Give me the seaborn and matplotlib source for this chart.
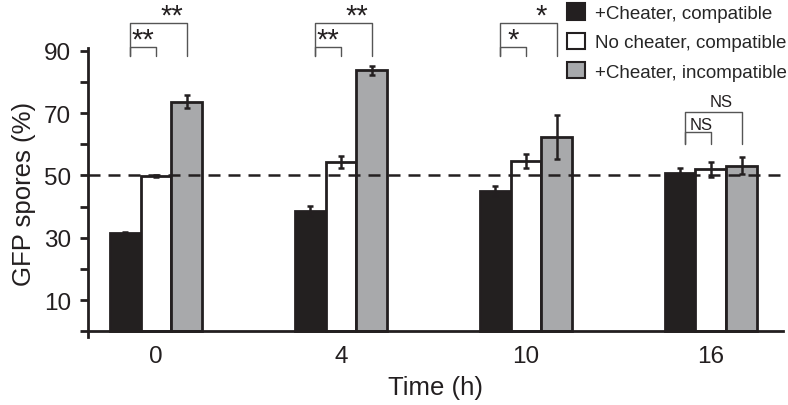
import pandas as pd
import matplotlib
matplotlib.use('Agg')
import matplotlib.pyplot as plt
import matplotlib.patches as mpatches
import seaborn as sns

# values
times = ['0', '4', '10', '16']
conditions = ['+Cheater, compatible', 'No cheater, compatible', '+Cheater, incompatible']
cheater_compat = [31.4, 38.5, 45.0, 50.8]
cheater_compat_err = [0.3, 1.6, 1.6, 1.6]
nocheater_compat = [49.8, 54.3, 54.7, 51.9]
nocheater_compat_err = [0.3, 2.0, 2.3, 2.4]
cheater_incompat = [73.7, 83.7, 62.4, 53.1]
cheater_incompat_err = [2.1, 1.5, 7.0, 2.7]
sig_inner = ['**', '**', '*', 'NS']
sig_outer = ['**', '**', '*', 'NS']

colors = ['#231f20', '#ffffff', '#a7a9ac']
dark = '#231f20'

df = pd.DataFrame({
    'Time': times * 3,
    'Condition': [c for c in conditions for _ in times],
    'GFP': cheater_compat + nocheater_compat + cheater_incompat,
})
errs = [cheater_compat_err, nocheater_compat_err, cheater_incompat_err]

sns.set_style('ticks')
plt.rcParams['font.family'] = ['Liberation Sans', 'DejaVu Sans']

fig = plt.figure(figsize=(7.88, 4.06), dpi=100)
ax = fig.add_axes([0.1117, 0.1665, 0.8820, 0.7138])

sns.barplot(data=df, x='Time', y='GFP', hue='Condition', order=times,
            hue_order=conditions, palette=colors, width=0.5, errorbar=None,
            edgecolor=dark, linewidth=2.0, legend=False, ax=ax)

# error bars on top of each bar
for cont, err in zip(ax.containers, errs):
    xs = [b.get_x() + b.get_width() / 2 for b in cont]
    ys = [b.get_height() for b in cont]
    ax.errorbar(xs, ys, yerr=err, fmt='none', ecolor=dark, elinewidth=1.8,
                capsize=2.4, capthick=1.8, zorder=5)

ax.axhline(50, color=dark, lw=1.8, ls=(0, (4.8, 3.2)), zorder=6)

# significance brackets
bw = 0.5 / 3
for i in range(len(times)):
    if sig_inner[i] == 'NS':
        base, top_in, top_out = 60.1, 63.8, 70.4
    else:
        base, top_in, top_out = 88.3, 91.2, 98.9
    left = i - bw + 0.025
    ax.plot([left, left, i, i], [base, top_in, top_in, base], color='#555555',
            lw=1.0, clip_on=False)
    ax.plot([left, left, i + bw, i + bw], [base, top_out, top_out, base],
            color='#555555', lw=1.0, clip_on=False)
    if sig_inner[i] == 'NS':
        ax.text((left + i) / 2 + 0.02, top_in + 1.0, sig_inner[i], ha='center',
                va='baseline', fontsize=12, color=dark, clip_on=False)
        ax.text(i + bw / 2 - 0.03, top_out + 2.0, sig_outer[i], ha='center',
                va='baseline', fontsize=12, color=dark, clip_on=False)
    else:
        ax.text((left + i) / 2, top_in - 0.3, sig_inner[i], ha='center',
                va='baseline', fontsize=21, color=dark, clip_on=False)
        ax.text(i + bw / 2, top_out - 0.3, sig_outer[i], ha='center',
                va='baseline', fontsize=21, color=dark, clip_on=False)

ax.set_xlim(-0.368, 3.39)
ax.set_ylim(-2, 91)
ax.set_yticks(range(0, 91, 10))
ax.set_yticklabels(['' if v % 20 == 0 else str(v) for v in range(0, 91, 10)])
ax.spines['bottom'].set_position(('data', 0))
ax.spines['left'].set_bounds(-2, 91)
for s in ['top', 'right']:
    ax.spines[s].set_visible(False)
for s in ['left', 'bottom']:
    ax.spines[s].set_linewidth(2.0)
    ax.spines[s].set_color(dark)
ax.tick_params(axis='y', length=6, width=2.0, color=dark, labelsize=17.5,
               pad=6, labelcolor=dark)
ax.tick_params(axis='x', length=0, labelsize=17.5, pad=10, labelcolor=dark)
ax.set_xlabel('Time (h)', fontsize=18.5, color=dark, labelpad=6)
ax.set_ylabel('GFP spores (%)', fontsize=18.5, color=dark, labelpad=6)

handles = [mpatches.Patch(facecolor=c, edgecolor=dark, lw=1.5) for c in colors]
ax.legend(handles, conditions, loc='upper left', bbox_to_anchor=(0.719, 0.989),
          bbox_transform=fig.transFigure, frameon=False, borderpad=0,
          borderaxespad=0, fontsize=13.5, handlelength=1.0, handleheight=1.0,
          handletextpad=0.5, labelspacing=0.55)

fig.savefig('out.png', dpi=100)
